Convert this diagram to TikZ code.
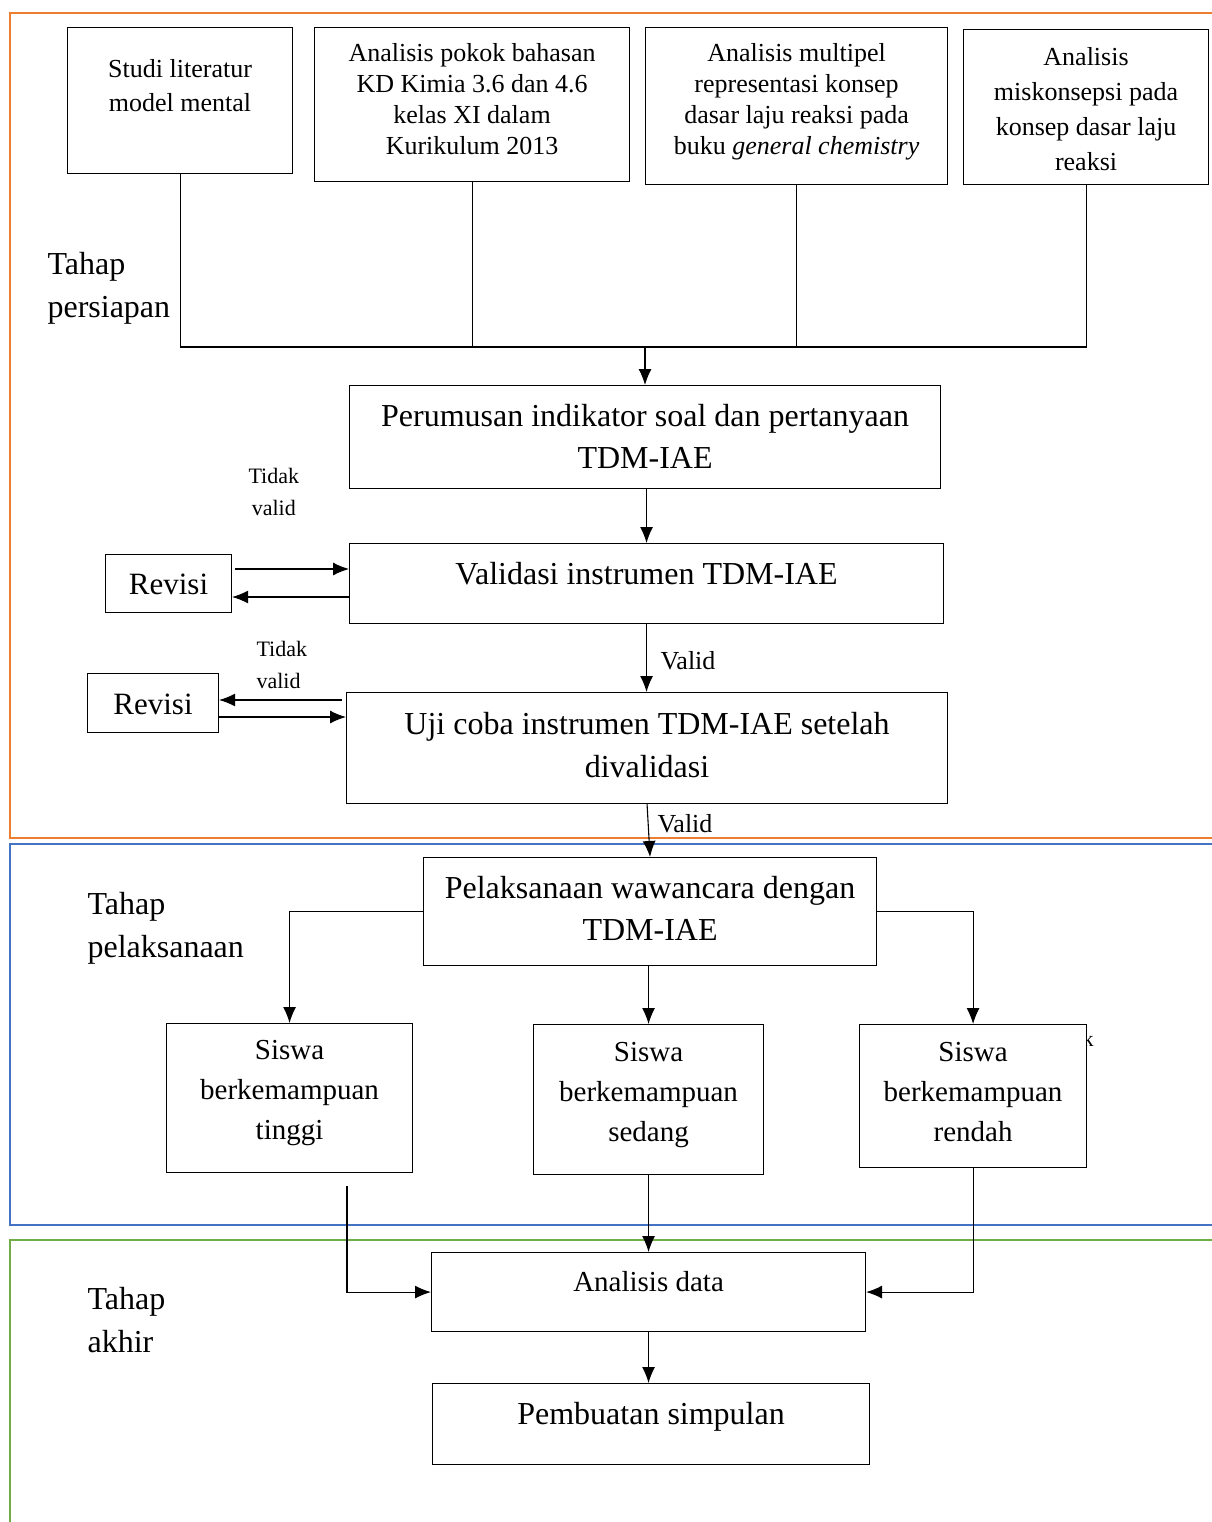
\documentclass[tikz,border=0pt]{standalone}
\usepackage{fontspec}
\setmainfont{Liberation Serif}
\usetikzlibrary{arrows.meta}
\definecolor{orangeframe}{HTML}{ED7D31}
\definecolor{blueframe}{HTML}{4472C4}
\definecolor{greenframe}{HTML}{70AD47}
\begin{document}
\begin{tikzpicture}[x=1pt, y=-1pt, line width=1.1pt, >={Latex[length=16pt,width=13pt]},
  box/.style={draw, fill=white, anchor=north west, inner sep=0pt},
  txt/.style={anchor=north, align=center, inner sep=0pt},
  toptext/.style={font=\fontsize{26}{31}\selectfont},
  bigtext/.style={font=\fontsize{32}{42}\selectfont},
  midtext/.style={font=\fontsize{29}{40}\selectfont},
  smalltext/.style={font=\fontsize{22}{32}\selectfont},
  stage/.style={anchor=north west, align=left, inner sep=0pt, font=\fontsize{32}{43}\selectfont}]
\useasboundingbox (0,0) rectangle (1211,1522);

\draw[orangeframe, line width=2pt] (1220,13) -- (10,13) -- (10,838) -- (1220,838);
\draw[blueframe, line width=2pt] (1220,844) -- (10,844) -- (10,1225) -- (1220,1225);
\draw[greenframe, line width=2pt] (1220,1240) -- (10,1240) -- (10,1530);

\node[stage] (persiapan) at (47,252) {Tahap\\persiapan};
\node[stage] (pelaksanaan) at (87,892) {Tahap\\pelaksanaan};
\node[stage] (akhir) at (87,1287) {Tahap\\akhir};

\node[box, minimum width=225pt, minimum height=146pt,
  label={[txt, toptext, font=\fontsize{26}{34}\selectfont, yshift=-32pt]north:{Studi literatur\\model mental}}] (studi) at (67,27) {};
\node[box, minimum width=315pt, minimum height=154pt,
  label={[txt, toptext, yshift=-16pt]north:{Analisis pokok bahasan\\KD Kimia 3.6 dan 4.6\\kelas XI dalam\\Kurikulum 2013}}] (pokok) at (314,27) {};
\node[box, minimum width=302pt, minimum height=157pt,
  label={[txt, toptext, yshift=-16pt]north:{Analisis multipel\\representasi konsep\\dasar laju reaksi pada\\buku \textit{general chemistry}}}] (multipel) at (645,27) {};
\node[box, minimum width=245pt, minimum height=155pt,
  label={[txt, toptext, font=\fontsize{26}{35}\selectfont, yshift=-18pt]north:{Analisis\\miskonsepsi pada\\konsep dasar laju\\reaksi}}] (miskonsepsi) at (963,29) {};

\node[box, minimum width=591pt, minimum height=103pt,
  label={[txt, bigtext, yshift=-19pt]north:{Perumusan indikator soal dan pertanyaan\\TDM-IAE}}] (perumusan) at (349,385) {};
\node[box, minimum width=594pt, minimum height=80pt,
  label={[txt, bigtext, yshift=-19pt]north:{Validasi instrumen TDM-IAE}}] (validasi) at (349,543) {};
\node[box, minimum width=126pt, minimum height=58pt,
  label={[txt, font=\fontsize{31}{40}\selectfont, yshift=-19pt]north:{Revisi}}] (revisiA) at (105,554) {};
\node[box, minimum width=601pt, minimum height=111pt,
  label={[txt, font=\fontsize{32}{43}\selectfont, yshift=-20pt]north:{Uji coba instrumen TDM-IAE setelah\\divalidasi}}] (ujicoba) at (346,692) {};
\node[box, minimum width=131pt, minimum height=59pt,
  label={[txt, font=\fontsize{31}{40}\selectfont, yshift=-20pt]north:{Revisi}}] (revisiB) at (87,673) {};

\node[txt, smalltext, anchor=north west] (tidakA) at (248,468) {Tidak\\valid};
\node[txt, smalltext, anchor=north west, align=left] (tidakB) at (256,641) {Tidak\\valid};
\node[txt, toptext, anchor=north west] (validA) at (660,651) {Valid};
\node[txt, toptext, anchor=north west] (validB) at (657,814) {Valid};

\node[box, minimum width=453pt, minimum height=108pt,
  label={[txt, bigtext, yshift=-19pt]north:{Pelaksanaan wawancara dengan\\TDM-IAE}}] (wawancara) at (423,857) {};
\node[txt, smalltext, anchor=north west] (sisa) at (1082,1031) {k};
\node[box, minimum width=246pt, minimum height=149pt,
  label={[txt, midtext, yshift=-17pt]north:{Siswa\\berkemampuan\\tinggi}}] (tinggi) at (166,1023) {};
\node[box, minimum width=230pt, minimum height=150pt,
  label={[txt, midtext, yshift=-18pt]north:{Siswa\\berkemampuan\\sedang}}] (sedang) at (533,1024) {};
\node[box, minimum width=227pt, minimum height=143pt,
  label={[txt, midtext, yshift=-18pt]north:{Siswa\\berkemampuan\\rendah}}] (rendah) at (859,1024) {};

\node[box, minimum width=434pt, minimum height=79pt,
  label={[txt, midtext, yshift=-19pt]north:{Analisis data}}] (analisis) at (431,1252) {};
\node[box, minimum width=437pt, minimum height=81pt,
  label={[txt, bigtext, yshift=-19pt]north:{Pembuatan simpulan}}] (simpulan) at (432,1383) {};

\coordinate (gabung) at (645,347);
\coordinate (tinggiend) at (347,1186);

\draw (studi.south) |- (gabung);
\draw (pokok.south) -- (pokok.south |- gabung);
\draw (multipel.south) |- (gabung);
\draw (miskonsepsi.south) |- (gabung);
\draw[->] (gabung) -- (gabung |- perumusan.north);
\draw[->] (validasi.north |- perumusan.south) -- (validasi.north);
\draw[->] (revisiA.east |- 0,569) ++(3,0) -- (validasi.west |- 0,569);
\draw[->] (validasi.west |- 0,597) -- (revisiA.east |- 0,597);
\draw[->] (validasi.south) -- (validasi.south |- ujicoba.north);
\draw[->] (ujicoba.west |- 0,700) ++(-4,0) -- (revisiB.east |- 0,700);
\draw[->] (revisiB.east |- 0,717) -- (ujicoba.west |- 0,717);
\draw[->] (ujicoba.south) -- (wawancara.north);
\draw[->] (wawancara.west) -| (tinggi.north);
\draw[->] (sedang.north |- wawancara.south) -- (sedang.north);
\draw[->] (wawancara.east) -| (rendah.north);
\draw[->] (tinggiend) |- (analisis.west);
\draw[->] (sedang.south) -- (analisis.north);
\draw[->] (rendah.south) |- (analisis.east);
\draw[->] (analisis.south) -- (analisis.south |- simpulan.north);
\end{tikzpicture}
\end{document}
